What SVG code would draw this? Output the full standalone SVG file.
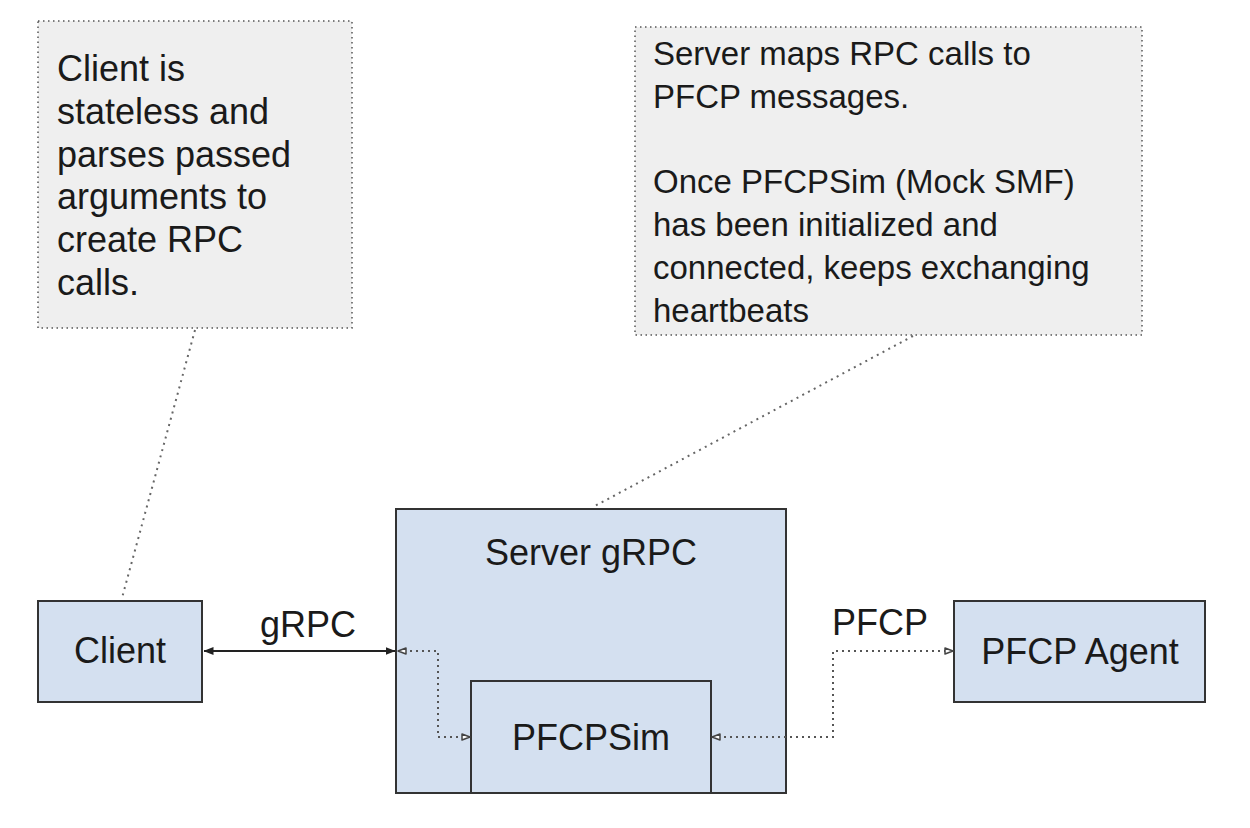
<svg xmlns="http://www.w3.org/2000/svg" width="1250" height="828" viewBox="0 0 1250 828">
  <defs>
    <style>
      .note { fill: #efefef; stroke: #555; stroke-width: 1.5; stroke-dasharray: 1.5 3.5; }
      .node { fill: #d4e0f0; stroke: #333; stroke-width: 2; }
      .t { font-family: "Liberation Sans", Arial, sans-serif; fill: #1a1a1a; }
      .big { font-size: 36px; }
      .mid { font-size: 33px; }
      .solid { fill: none; stroke: #222; stroke-width: 2.2; }
      .dot { fill: none; stroke: #555; stroke-width: 2; stroke-dasharray: 2 4; }
      .ndot { fill: none; stroke: #666; stroke-width: 2; stroke-dasharray: 2 4.5; }
    </style>
    <marker id="fill" viewBox="0 0 10 8" refX="9.5" refY="4" markerWidth="10" markerHeight="8" markerUnits="userSpaceOnUse" orient="auto-start-reverse">
      <path d="M0,0 L10,4 L0,8 z" fill="#222"/>
    </marker>
    <marker id="open" viewBox="0 0 10 8" refX="9" refY="4" markerWidth="10" markerHeight="8" markerUnits="userSpaceOnUse" orient="auto-start-reverse">
      <path d="M1,1 L9,4 L1,7 z" fill="#fff" stroke="#444" stroke-width="1.5" stroke-linejoin="round"/>
    </marker>
  </defs>
  <rect width="1250" height="828" fill="#fff"/>

  <g id="note-client">
    <rect class="note" x="38" y="21" width="314" height="307"/>
    <text class="t big" x="57" y="81">
      <tspan x="57" y="81">Client is</tspan>
      <tspan x="57" y="123.8">stateless and</tspan>
      <tspan x="57" y="166.6">parses passed</tspan>
      <tspan x="57" y="209.4">arguments to</tspan>
      <tspan x="57" y="252.2">create RPC</tspan>
      <tspan x="57" y="295">calls.</tspan>
    </text>
  </g>

  <g id="note-server">
    <rect class="note" x="635" y="27" width="507" height="308"/>
    <text class="t mid" x="653" y="65">
      <tspan x="653" y="65">Server maps RPC calls to</tspan>
      <tspan x="653" y="107.75">PFCP messages.</tspan>
      <tspan x="653" y="193.25">Once PFCPSim (Mock SMF)</tspan>
      <tspan x="653" y="236">has been initialized and</tspan>
      <tspan x="653" y="278.75">connected, keeps exchanging</tspan>
      <tspan x="653" y="321.5">heartbeats</tspan>
    </text>
  </g>

  <g id="client">
    <rect class="node" x="38" y="601" width="164" height="101"/>
    <text class="t big" x="120" y="663" text-anchor="middle">Client</text>
  </g>

  <g id="server">
    <rect class="node" x="396" y="509" width="390" height="284"/>
    <text class="t big" x="591" y="565" text-anchor="middle">Server gRPC</text>
  </g>

  <g id="pfcpsim">
    <rect class="node" x="471" y="681" width="240" height="112"/>
    <text class="t big" x="591" y="750" text-anchor="middle">PFCPSim</text>
  </g>

  <g id="pfcp-agent">
    <rect class="node" x="954" y="601" width="251" height="101"/>
    <text class="t big" x="1080" y="664" text-anchor="middle">PFCP Agent</text>
  </g>

  <g id="connectors">
    <line class="ndot" x1="195" y1="330" x2="122" y2="598"/>
    <line class="ndot" x1="913" y1="336" x2="593" y2="507"/>
    <line class="solid" x1="204" y1="651" x2="395" y2="651" marker-start="url(#fill)" marker-end="url(#fill)"/>
    <path class="dot" d="M398,651 H438 V737 H470" marker-start="url(#open)" marker-end="url(#open)"/>
    <path class="dot" d="M712,737 H833 V651 H953" marker-start="url(#open)" marker-end="url(#open)"/>
  </g>

  <g id="labels">
    <text class="t big" x="308" y="637" text-anchor="middle">gRPC</text>
    <text class="t big" x="880" y="635" text-anchor="middle">PFCP</text>
  </g>
</svg>
